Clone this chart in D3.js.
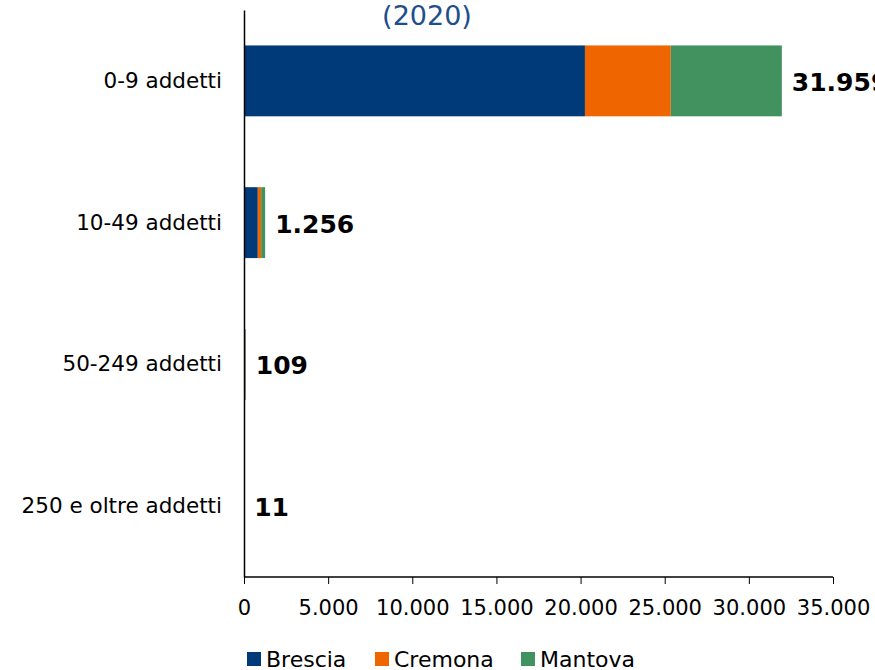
<!DOCTYPE html>
<html>
<head>
<meta charset="utf-8">
<script src="https://cdn.jsdelivr.net/npm/d3@7"></script>
<style>
  body { margin: 0; background: #fff; }
  svg { font-family: "DejaVu Sans", sans-serif; }
</style>
</head>
<body>
<svg id="chart"></svg>
<script>
var categories = ['0-9 addetti', '10-49 addetti', '50-249 addetti', '250 e oltre addetti'];
var provinces = ['Brescia', 'Cremona', 'Mantova'];
var brescia = [20260, 820, 70, 8];
var cremona = [5100, 200, 16, 1];
var mantova = [6599, 236, 23, 2];
var totals = [31959, 1256, 109, 11];
var xTicks = [0, 5000, 10000, 15000, 20000, 25000, 30000, 35000];
var colors = ['#003a78', '#ef6500', '#41925f'];

var width = 875, height = 670;
var svg = d3.select('#chart').attr('width', width).attr('height', height);

var rows = categories.map(function(c, i) {
    return {cat: c, Brescia: brescia[i], Cremona: cremona[i], Mantova: mantova[i], total: totals[i]};
});

var x = d3.scaleLinear().domain([0, 35000]).range([244, 833]);
var y = d3.scaleBand().domain(categories).range([10, 577]).paddingInner(0.5).paddingOuter(0.25);

var stack = d3.stack().keys(provinces)(rows);
var color = d3.scaleOrdinal().domain(provinces).range(colors);
var fmt = function(d) { return d3.format(',')(d).replace(/,/g, '.'); };

// title (cut off at top like the reference)
svg.append('text')
    .attr('x', 427).attr('y', 25)
    .attr('text-anchor', 'middle')
    .attr('font-size', 27)
    .attr('fill', '#1f4e8c')
    .text('(2020)');

svg.selectAll('g.layer')
    .data(stack)
    .enter()
    .append('g')
    .attr('class', 'layer')
    .attr('fill', function(d) { return color(d.key); })
    .selectAll('rect')
    .data(function(d) { return d; })
    .enter()
    .append('rect')
    .attr('x', function(d) { return x(d[0]); })
    .attr('width', function(d) { return x(d[1]) - x(d[0]); })
    .attr('y', function(d) { return y(d.data.cat); })
    .attr('height', y.bandwidth());

// total labels
svg.selectAll('text.total')
    .data(rows)
    .enter()
    .append('text')
    .attr('class', 'total')
    .attr('x', function(d) { return x(d.total) + 10; })
    .attr('y', function(d) { return y(d.cat) + y.bandwidth() / 2; })
    .attr('dy', '0.4em')
    .attr('font-size', 25)
    .attr('font-weight', 'bold')
    .attr('fill', '#000')
    .text(function(d) { return fmt(d.total); });

// y axis
var yAxis = svg.append('g')
    .attr('transform', 'translate(244,0)')
    .call(d3.axisLeft(y).tickSize(0).tickPadding(22));
yAxis.select('.domain').attr('stroke', '#000').attr('stroke-width', 1.5);
yAxis.selectAll('text').attr('font-size', 21.5).attr('fill', '#000')
    .attr('font-family', '"DejaVu Sans", sans-serif');

// x axis
var xAxis = svg.append('g')
    .attr('transform', 'translate(0,577)')
    .call(d3.axisBottom(x).tickValues(xTicks).tickSize(7).tickPadding(16).tickFormat(fmt));
xAxis.select('.domain').attr('stroke', '#000').attr('stroke-width', 1.5).attr('d', 'M244,0H833');
xAxis.selectAll('line').attr('stroke', '#000');
xAxis.selectAll('text').attr('font-size', 21).attr('fill', '#000')
    .attr('font-family', '"DejaVu Sans", sans-serif');

// legend
var legendX = [247, 375, 521];
var legend = svg.selectAll('g.legend')
    .data(provinces)
    .enter()
    .append('g')
    .attr('class', 'legend')
    .attr('transform', function(d, i) { return 'translate(' + legendX[i] + ',652)'; });
legend.append('rect')
    .attr('width', 14).attr('height', 14)
    .attr('fill', function(d) { return color(d); });
legend.append('text')
    .attr('x', 19).attr('y', 7)
    .attr('dy', '0.36em')
    .attr('font-size', 22)
    .attr('fill', '#000')
    .text(function(d) { return d; });
</script>
</body>
</html>
